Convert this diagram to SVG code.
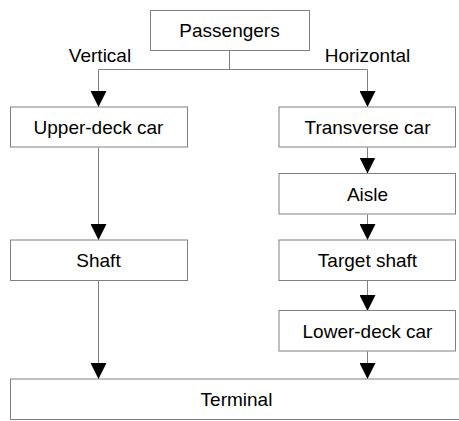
<svg xmlns="http://www.w3.org/2000/svg" width="459" height="421" viewBox="0 0 459 421">
<style>
rect{fill:#fff;stroke:#808080;stroke-width:1}
text{font-family:"Liberation Sans",Arial,sans-serif;font-size:19px;fill:#000;text-anchor:middle}
.c{fill:none;stroke:#808080;stroke-width:1}
</style>
<defs>
<marker id="a" markerUnits="userSpaceOnUse" markerWidth="16" markerHeight="16" refX="16" refY="8" orient="auto" viewBox="0 0 16 16">
<path d="M0,0 L16,8 L0,16 Z" fill="#000"/>
</marker>
</defs>
<g id="connectors">
<path class="c" d="M229.5,50.5 V69.5"/>
<path class="c" d="M98.5,69.5 H367.5"/>
<path class="c" d="M98.5,69.5 V107" marker-end="url(#a)"/>
<path class="c" d="M367.5,69.5 V107" marker-end="url(#a)"/>
<path class="c" d="M98.5,147.5 V240" marker-end="url(#a)"/>
<path class="c" d="M367.5,147.5 V173.5" marker-end="url(#a)"/>
<path class="c" d="M367.5,214.5 V240" marker-end="url(#a)"/>
<path class="c" d="M367.5,281 V311" marker-end="url(#a)"/>
<path class="c" d="M98.5,281 V379" marker-end="url(#a)"/>
<path class="c" d="M367.5,351.5 V379" marker-end="url(#a)"/>
</g>
<g id="labels">
<text x="100" y="62">Vertical</text>
<text x="367.5" y="62">Horizontal</text>
</g>
<g id="passengers"><rect x="150.5" y="10.5" width="159" height="40"/><text x="229.5" y="36.5">Passengers</text></g>
<g id="upper-deck"><rect x="10.5" y="107" width="177" height="40"/><text x="98.5" y="133.8">Upper-deck car</text></g>
<g id="transverse"><rect x="279" y="107" width="176.5" height="40"/><text x="367.5" y="133.8">Transverse car</text></g>
<g id="aisle"><rect x="279" y="173.5" width="176.5" height="40.5"/><text x="367.5" y="200.5">Aisle</text></g>
<g id="shaft"><rect x="10.5" y="240" width="177" height="40.5"/><text x="98.5" y="267">Shaft</text></g>
<g id="target-shaft"><rect x="279" y="240" width="176.5" height="40.5"/><text x="367.5" y="267">Target shaft</text></g>
<g id="lower-deck"><rect x="279" y="310.5" width="176.5" height="40.5"/><text x="367.5" y="337.5">Lower-deck car</text></g>
<g id="terminal"><rect x="10.5" y="379" width="460" height="40.5"/><text x="236.5" y="406.3">Terminal</text></g>
</svg>
